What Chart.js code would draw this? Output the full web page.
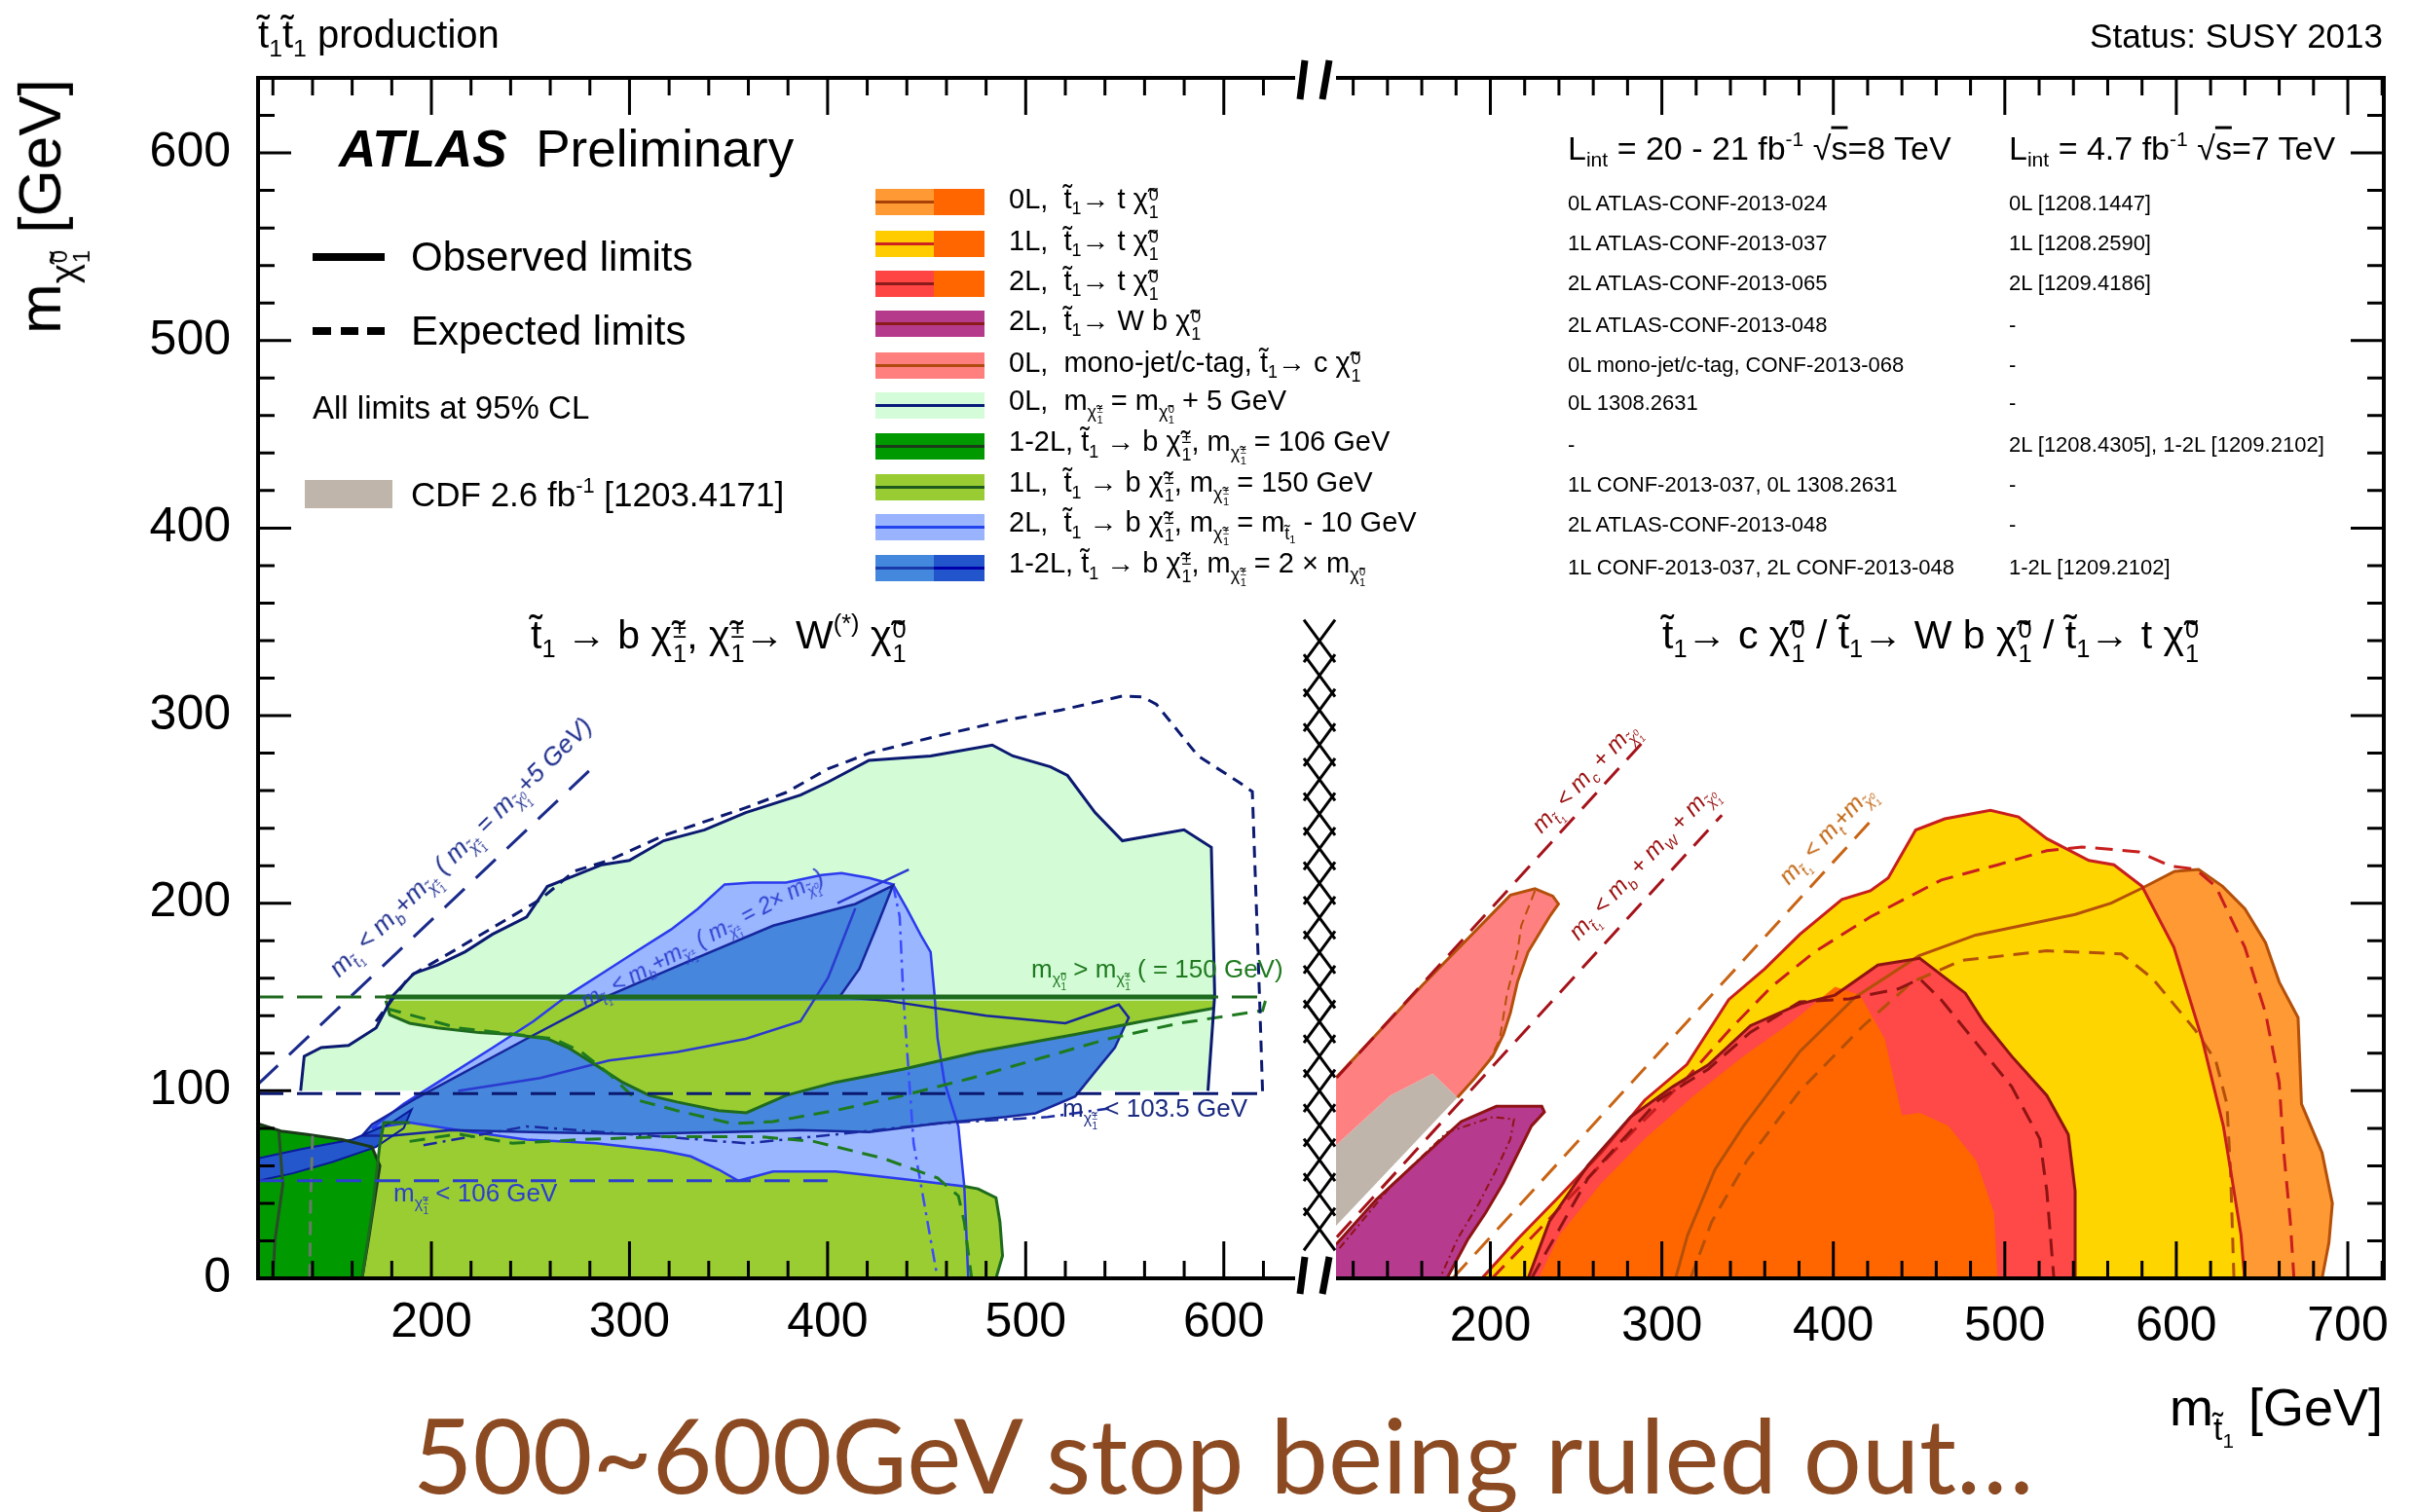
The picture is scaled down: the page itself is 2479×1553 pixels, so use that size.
<!DOCTYPE html>
<html>
<head>
<meta charset="utf-8">
<script src="https://cdn.jsdelivr.net/npm/chart.js"></script>
<style>
body{margin:0;background:#fff;width:2479px;height:1553px;overflow:hidden;position:relative;font-family:"Liberation Sans",Arial,sans-serif;color:#000;}
canvas{position:absolute;left:0;top:0;}
.t{position:absolute;white-space:nowrap;line-height:1.2;transform:translateY(-50%);}
.r{position:absolute;white-space:nowrap;line-height:1.2;transform-origin:0 50%;font-style:italic;}
.ms{font-size:0.62em;vertical-align:-0.45em;}
.ss{display:inline-block;font-size:0.62em;line-height:1;vertical-align:-0.55em;margin-left:0.04em;}
.ss>span{display:block;}
sub{font-size:0.62em;vertical-align:-0.35em;line-height:0;}
sup{font-size:0.62em;vertical-align:0.65em;line-height:0;}
.ov{text-decoration:overline;}
.box{position:absolute;}
</style>
</head>
<body>
<canvas id="left" width="2479" height="1553"></canvas>
<canvas id="right" width="2479" height="1553"></canvas>
<div id="txt"></div>
<script>
// axis ranges and tick labels
const xRangeL = [112.5, 636];
const xRangeR = [110, 721];
const yRange = [0, 640];
const xTicksL = [200, 300, 400, 500, 600];
const xTicksR = [200, 300, 400, 500, 600, 700];
const yTicks = [0, 100, 200, 300, 400, 500, 600];

// ---------- left panel: t1 -> b chi+-, chi+- -> W(*) chi0 ----------
// 0L, m(chi+-) = m(chi0) + 5 GeV
const m5Obs = [[134,100],[135.8,118.4],[144.4,123],[158.2,124.2],[172.1,133.5],[180.7,150.9],[191.1,162.5],[203.2,167.1],[217,174.1],[230.8,183.4],[248.1,192.7],[258.5,208.9],[272.3,214.7],[286.1,220.5],[299.9,222.8],[317.2,233.3],[337.9,239.1],[358.7,248.3],[386.3,257.6],[400.2,264.6],[420.9,276.2],[452,278.5],[483.1,284.3],[493.5,278.5],[512.5,272.7],[521.1,268.1],[535,248.3],[548.8,233.3],[579.9,239.1],[593.7,229.8],[595.4,150.9],[592,100]];
const m5Exp = [[172,137],[189,161],[213.5,176],[231,187],[255,202],[272,217],[290,223],[317,236],[359,251],[379,259],[400,271.5],[421,280],[455,289],[490,297.5],[518,303],[549,310.5],[559,310],[566,306],[587,278.5],[607.5,264.6],[614.4,259.5],[616,211],[618,151],[619.6,98.5]];
const kin5 = [[112.5,103.5],[282,273]];
const lim1035 = [[112.5,98.5],[620,98.5]];
const lim150 = [[112.5,150],[621,150]];
const lim106 = [[112.5,52],[400,52]];
// 2L, m(chi+-) = m(t1) - 10 GeV
const lb2L = [[170,80],[186,93],[207,107],[231,123],[251.5,137],[269,151],[286,162.5],[303,174],[321,186],[334.5,197],[348,210],[362,211],[379,211],[397,215],[407,216],[421,213.5],[433,210],[440,197],[447,183],[452,174],[454,151],[455.5,128],[459,104.5],[466,81],[469,49],[438,53],[404,57],[372.5,57],[355,52],[345,58],[331,65],[317,68],[283,72],[248,74],[213.5,79],[189,83]];
const lb2LExt = [[469,49],[470,25],[471,0]];
const lb2LExp = [[433,210],[436.4,192.7],[438.2,150.9],[443.4,72],[455.5,0]];
// 1-2L, m(chi+-) = 2 x m(chi0): 8 TeV and 7 TeV
const mb12 = [[165,76],[170,82],[193,96.4],[248,127.7],[290,151],[331,169.5],[372.5,188],[414,199.6],[433,209.4],[425,188],[416,165],[406,150],[430,148],[480,140],[520,136],[547,146],[552,139],[545,123],[538,114],[525,97],[505,88],[490,86],[455,82.5],[421,78],[386,79],[350,78],[300,77],[250,78],[210,79],[180,76]];
const mbIn = [[213.5,99.9],[255,106.8],[289.6,116.1],[324.1,120.7],[358.7,127.7],[386.3,137],[400.2,160.2],[414,197.3]];
const mbExp = [[196,71],[248,81],[317,75.5],[359,72],[404,76.7],[455,82.5],[511,86],[542,90.6]];
const kin2x = [[405,200],[441,218]];
const db12 = [[112.5,52],[112.5,64],[135,69],[160,74],[180,83],[190,90],[186,80],[172,70],[150,62],[130,56]];
// 1-2L, m(chi+-) = 106 GeV
const g106 = [[112.5,82.5],[124,78.5],[137.5,76.7],[155,74],[170,70],[174,60],[172,46.5],[168.6,23],[165,0],[112.5,0]];
const g106In1 = [[123,78],[125,50],[121,20],[120,0]];
const g106In2 = [[140,76],[139,40],[138.6,0]];
// 1L, m(chi+-) = 150 GeV
const c150A = [[177,148],[179,140.5],[189,136],[203,133.5],[224,131],[241,130],[258.5,127.7],[269,123],[282.6,114],[296.5,104.5],[310,97.5],[324,94],[345,89.4],[359,88.3],[379,97.5],[404,104.5],[438,111.5],[476,120.7],[525,130],[559,137],[595,144],[595,148]];
const c150Top = [[177,150],[595,150]];
const c150B = [[165,0],[170,35],[173.8,70],[176,83],[189,83],[213.5,79],[248,74],[283,72],[317,68],[331,65],[345,58],[355,52],[372.5,57],[404,57],[438,53],[469,49],[476,47.7],[485,43],[487,30],[488.3,12],[485,0]];
const c150ExpA = [[177,144],[213.5,133.5],[262,127.7],[275.7,120.7],[289.6,109.1],[303.4,95.2],[324,89.4],[351.8,82.5],[372.5,83.6],[403.6,89.4],[438.2,97.5],[472.7,106.8],[507.3,117.3],[541.8,127.7],[576.4,135.8],[619.6,142.8],[621.3,149]];
const c150ExpB = [[189,73],[213.5,77],[241,72],[276,74],[317,75.5],[366,75.5],[393,73],[428,64],[455.5,53.5],[466,44],[469,30],[472.7,0]];

// ---------- right panel: t1 -> c chi0 / W b chi0 / t chi0 ----------
const lo0L = [[308,0],[315,23],[331,58],[347.5,81],[380.5,121],[413,150],[450,172],[483,183],[541,194],[562,200],[580,208],[599,217],[613,218],[627,209],[640,197],[652,179],[660,158],[671,139],[673,93],[685,67],[691,40],[689,19],[685,0]];
const e0L = [[316.7,0],[329,30],[349.6,62.7],[380.5,100],[417.5,134.7],[446,158],[475,169.5],[524.5,174.6],[568,173],[586,160],[611,132.4],[623,116],[629.5,93],[631.6,58],[633.6,0]];
const y1L = [[195,0],[216,21],[240.5,44],[265,67.4],[290,95],[314.6,114],[339,148.6],[360,165],[380.5,183.4],[405,202],[421.6,206.6],[432,213.5],[448,239],[465,245],[491.6,249.5],[508,246],[524.5,234.4],[549,222.8],[563.6,220.5],[580,209],[598.6,176.4],[615,127.7],[627.4,81.3],[631.6,58],[637.7,23.3],[639.8,0]];
const e1L = [[201,0],[228,25.6],[257,53.5],[286,81],[314.6,106.8],[339,132],[364,155.5],[389,174],[421.6,192.7],[463,212.4],[496,220.5],[524.5,228],[545,230],[578,227.4],[596.6,219.8],[611,218.2],[623,209],[640,176.4],[652,141.6],[660,104.5],[662.4,70],[666.5,30],[668.6,0]];
const r2L = [[222,0],[234.4,30.3],[257,60.4],[281.7,86],[306.4,102.2],[327,113.8],[351.7,134.7],[380.5,146.3],[401,151],[426,167],[450.4,170.6],[477,152],[487.5,137],[504,118.4],[524.5,97.5],[537,76.7],[541,46.5],[541,0]];
const e2L = [[224,0],[257,53.5],[298,95],[327,111.5],[351.7,131.2],[380.5,147.4],[409.3,149],[438.1,154.4],[450.4,159.7],[462.8,148.6],[483.4,125.4],[504,102.2],[520.4,74.3],[524.5,46.5],[528.6,0]];
const do7 = [[228,0],[240.5,23.3],[265,51],[290,74.3],[318.7,97.5],[347.5,118.4],[376.4,137],[401,155.5],[415.5,151],[430,127.7],[440,87],[450.4,88.3],[467,81.3],[483.4,62.7],[493.7,35],[495.7,0]];
const cdf = [[110,71],[141.7,97.5],[166.4,109.1],[180.8,96.4],[110,28]];
const mj = [[110,107],[160,156],[211.7,204.3],[226,207.7],[236.4,203.8],[239.7,199.6],[234.4,192.7],[228.2,183.4],[222,174],[215.8,158],[211.7,141.6],[207.6,130],[201.4,118.4],[191,106.8],[180.8,96.4],[166.4,109.1],[141.7,97.5],[110,71]];
const mjIn = [[226,206.6],[218,188],[215.8,174],[209.6,151],[205.5,127.7],[199.4,116]];
const wb = [[110,18],[133.5,42],[158,62.7],[183,83.6],[203.5,91.7],[230,91.7],[231.5,88.7],[224,81.3],[215.8,66.2],[207.6,51],[197.3,35],[187,21],[178.8,7],[174.7,0],[110,0]];
const wbExp = [[112,16],[141.7,48.8],[174.7,77.8],[201.4,86],[213.8,84.8],[211.7,74.3],[203.5,58],[193,39.5],[180.8,21],[170.6,0]];
const kinC = [[110.5,107],[290,287]];
const kinW = [[110.5,22],[335,247]];
const kinT = [[178,0],[422,244]];

// ---------- dataset helpers ----------
const toXY = pts => pts.map(p => ({x: p[0], y: p[1]}));
function makeLayers() {
  const sets = [];
  return {
    sets,
    fill(pts, color) {
      sets.push({data: toXY(pts), backgroundColor: color, borderColor: 'transparent', borderWidth: 0, fill: 'shape', pointRadius: 0});
    },
    line(pts, color, width, dash, close) {
      const p = close ? pts.concat([pts[0]]) : pts;
      sets.push({data: toXY(p), borderColor: color, borderWidth: width, borderDash: dash || [], fill: false, pointRadius: 0});
    },
    done() {
      // first pushed = bottom layer
      sets.forEach((s, i) => { s.order = 1000 - i; });
      return sets;
    }
  };
}

const L = makeLayers();
L.fill(m5Obs, '#d3fbd6');
L.fill(lb2L, '#9ab6ff');
L.fill(mb12, '#4686dc');
L.fill(g106, '#009a00');
L.fill(db12, '#2457cc');
L.fill(c150A, '#9acd32');
L.fill(c150B, '#9acd32');
L.line(lb2L, '#2b3bee', 2.5, null, true);
L.line(lb2LExt, '#2b3bee', 2.5);
L.line(lb2LExp, '#3b4bff', 2.5, [14, 6, 3, 6]);
L.line(mb12, '#16269c', 2.5, null, true);
L.line(mbIn, '#2a3ad0', 2.5);
L.line(mbExp, '#1a2aa0', 2.5, [14, 6, 3, 6]);
L.line(kin2x, '#2a3ad0', 2.5);
L.line(db12, '#0a1a9a', 2, null, true);
L.line(g106.slice(0, 9), '#1a3a1a', 3);
L.line(g106In1, '#2a4a2a', 3);
L.line(g106In2, '#6a7a6a', 3, [14, 8]);
L.line(c150A.slice(0, 21), '#1e6a1e', 3);
L.line(c150Top, '#1e6a1e', 5);
L.line(c150B.slice(0, 5), '#1e6a1e', 3);
L.line(c150B.slice(15), '#1e6a1e', 3);
L.line(c150ExpA, '#1e7a1e', 3, [16, 10]);
L.line(c150ExpB, '#1e7a1e', 3, [16, 10]);
L.line(m5Obs, '#0b1a70', 3);
L.line(m5Exp, '#0b1a70', 3, [12, 8]);
L.line(kin5, '#1b2b8b', 3, [28, 16]);
L.line(lim1035, '#0b1a70', 3, [26, 14]);
L.line(lim150, '#1e6a1e', 3, [26, 14]);
L.line(lim106, '#2b3fcf', 3, [26, 14]);
const leftSets = L.done();

const R = makeLayers();
R.fill(lo0L, '#ff9933');
R.fill(y1L, '#ffd500');
R.fill(r2L, '#ff4848');
R.fill(do7, '#ff6600');
R.fill(cdf, '#bfb5ab');
R.fill(mj, '#ff8080');
R.fill(wb, '#b63a8e');
R.line(lo0L, '#b4500a', 3);
R.line(e0L, '#b4500a', 3, [16, 10]);
R.line(y1L, '#c81e1e', 3);
R.line(e1L, '#c81e1e', 3, [18, 10]);
R.line(r2L, '#8e1414', 3);
R.line(e2L, '#8e1414', 3, [18, 10]);
R.line(mj.slice(0, 15), '#b4500a', 3);
R.line(mjIn, '#b4500a', 2, [10, 6]);
R.line(wb.slice(0, 14), '#8e1414', 3);
R.line(wbExp, '#8e1414', 2, [8, 4, 2, 4]);
R.line(kinC, '#a5121a', 3, [22, 12]);
R.line(kinW, '#a5121a', 3, [22, 12]);
R.line(kinT, '#c86414', 3, [22, 12]);
const rightSets = R.done();

// ROOT style frame, inward ticks, break marks and hatch
const frameTicks = {
  id: 'frameTicks',
  afterDatasetsDraw(chart, args, opts) {
    const {ctx, chartArea: a} = chart;
    const x = chart.scales.x, y = chart.scales.y;
    ctx.save();
    ctx.strokeStyle = '#000';
    ctx.lineWidth = 3;
    ctx.beginPath();
    for (let v = Math.ceil(x.min / 20) * 20; v <= x.max; v += 20) {
      const px = x.getPixelForValue(v), len = v % 100 === 0 ? 38 : 18;
      ctx.moveTo(px, a.bottom); ctx.lineTo(px, a.bottom - len);
      ctx.moveTo(px, a.top); ctx.lineTo(px, a.top + len);
    }
    for (let v = 0; v <= y.max; v += 20) {
      const py = y.getPixelForValue(v), len = v % 100 === 0 ? 34 : 17;
      if (opts.side === 'left') { ctx.moveTo(a.left, py); ctx.lineTo(a.left + len, py); }
      else { ctx.moveTo(a.right, py); ctx.lineTo(a.right - len, py); }
    }
    ctx.stroke();
    ctx.lineWidth = 4;
    ctx.beginPath();
    if (opts.side === 'left') {
      ctx.moveTo(a.right, a.top); ctx.lineTo(a.left, a.top); ctx.lineTo(a.left, a.bottom); ctx.lineTo(a.right, a.bottom);
    } else {
      ctx.moveTo(a.left, a.top); ctx.lineTo(a.right, a.top); ctx.lineTo(a.right, a.bottom); ctx.lineTo(a.left, a.bottom);
    }
    ctx.stroke();
    if (opts.side === 'right') {
      // column of crosses between the two panels
      const cx = a.left - 17, top = y.getPixelForValue(349), bot = y.getPixelForValue(17);
      const n = 18, h = (bot - top) / n;
      ctx.lineWidth = 3;
      ctx.beginPath();
      for (let i = 0; i < n; i++) {
        const y0 = top + i * h;
        ctx.moveTo(cx - 16, y0 - 4); ctx.lineTo(cx + 16, y0 + h + 4);
        ctx.moveTo(cx + 16, y0 - 4); ctx.lineTo(cx - 16, y0 + h + 4);
      }
      ctx.stroke();
      // axis break marks
      ctx.lineWidth = 7;
      ctx.beginPath();
      [[-32, -37], [-7, -14]].forEach(([d1, d2]) => {
        ctx.moveTo(a.left + d1, a.top - 18); ctx.lineTo(a.left + d2, a.top + 22);
        ctx.moveTo(a.left + d1, a.bottom - 22); ctx.lineTo(a.left + d2, a.bottom + 16);
      });
      ctx.stroke();
    }
    ctx.restore();
  }
};

Chart.defaults.font.family = '"Liberation Sans", Arial, sans-serif';
Chart.defaults.color = '#000';

function axis(range, ticks, extra) {
  return Object.assign({
    type: 'linear', min: range[0], max: range[1],
    afterBuildTicks: s => { s.ticks = ticks.map(v => ({value: v})); },
    grid: {display: false, drawTicks: false},
    border: {display: false},
    ticks: {font: {size: 50}, color: '#000', autoSkip: false, maxRotation: 0}
  }, extra);
}

new Chart(document.getElementById('left'), {
  type: 'line',
  data: {datasets: leftSets},
  options: {
    responsive: false, animation: false,
    layout: {padding: {left: 0, top: 80, right: 1149, bottom: 0}},
    plugins: {legend: {display: false}, tooltip: {enabled: false}, frameTicks: {side: 'left'}},
    elements: {line: {tension: 0}, point: {radius: 0}},
    scales: {
      x: axis(xRangeL, xTicksL, {afterFit: s => { s.height = 240; }, ticks: {font: {size: 50}, color: '#000', autoSkip: false, maxRotation: 0, padding: 16}}),
      y: axis(yRange, yTicks, {afterFit: s => { s.width = 265; }, ticks: {font: {size: 50}, color: '#000', autoSkip: false, padding: 28}})
    }
  },
  plugins: [frameTicks]
});

new Chart(document.getElementById('right'), {
  type: 'line',
  data: {datasets: rightSets},
  options: {
    responsive: false, animation: false,
    layout: {padding: {left: 1372, top: 80, right: 31, bottom: 0}},
    plugins: {legend: {display: false}, tooltip: {enabled: false}, frameTicks: {side: 'right'}},
    elements: {line: {tension: 0}, point: {radius: 0}},
    scales: {
      x: axis(xRangeR, xTicksR, {afterFit: s => { s.height = 240; }, ticks: {font: {size: 50}, color: '#000', autoSkip: false, maxRotation: 0, padding: 20}}),
      y: axis(yRange, yTicks, {display: false})
    }
  },
  plugins: [frameTicks]
});

// ---------- text ----------
const T = 't\u0303';
const X = '\u03C7\u0303';
const ss = (a, b) => `<span class="ss"><span>${a}</span><span>${b}</span></span>`;
const chi = (a, b) => X + ss(a, b);
const t1 = T + '<sub>1</sub>';
const m = s => `m<span class="ms">${s}</span>`;

let html = '';
const txt = (h, x, cy, size, extra) => { html += `<div class="t" style="left:${x}px;top:${cy}px;font-size:${size}px;${extra || ''}">${h}</div>`; };
const rot = (h, x, cy, deg, size, color) => { html += `<div class="r" style="left:${x}px;top:${cy - size * 0.6}px;font-size:${size}px;color:${color};transform:rotate(${deg}deg)">${h}</div>`; };
const box = (x, y, w, h, bg) => { html += `<div class="box" style="left:${x}px;top:${y}px;width:${w}px;height:${h}px;background:${bg}"></div>`; };

txt(`${t1}${t1} production`, 265, 35, 40);
txt('Status: SUSY 2013', 0, 37, 35, 'left:auto;right:32px;');
txt('<b><i>ATLAS</i></b>&nbsp; Preliminary', 348, 153, 53);
box(321, 260, 74, 8, '#000');
txt('Observed limits', 422, 264, 42);
box(321, 336, 19, 8, '#000'); box(350, 336, 18, 8, '#000'); box(377, 336, 18, 8, '#000');
txt('Expected limits', 422, 340, 42);
txt('All limits at 95% CL', 321, 419, 33);
box(313, 493, 90, 29, '#bfb5ab');
txt('CDF 2.6 fb<sup>-1</sup> [1203.4171]', 422, 508, 35);

// middle legend
const legRows = [
  ['#ff9933', '#ff6600', '#a84208', `0L,&nbsp; ${t1}→ t ${chi('0', '1')}`],
  ['#ffcc00', '#ff6600', '#cc2222', `1L,&nbsp; ${t1}→ t ${chi('0', '1')}`],
  ['#ff4444', '#ff6600', '#8b1a1a', `2L,&nbsp; ${t1}→ t ${chi('0', '1')}`],
  ['#b63a8c', null, '#8b1a1a', `2L,&nbsp; ${t1}→ W b ${chi('0', '1')}`],
  ['#ff7f7f', null, '#b04a10', `0L,&nbsp; mono-jet/c-tag, ${t1}→ c ${chi('0', '1')}`],
  ['#d4fcd8', null, '#0a1a7a', `0L,&nbsp; ${m(chi('±', '1'))} = ${m(chi('0', '1'))} + 5 GeV`],
  ['#009900', null, '#1a3a1a', `1-2L, ${t1} → b ${chi('±', '1')}, ${m(chi('±', '1'))} = 106 GeV`],
  ['#99cc33', null, '#1e5a1e', `1L,&nbsp; ${t1} → b ${chi('±', '1')}, ${m(chi('±', '1'))} = 150 GeV`],
  ['#99b3ff', null, '#2244ee', `2L,&nbsp; ${t1} → b ${chi('±', '1')}, ${m(chi('±', '1'))} = ${m(t1)} - 10 GeV`],
  ['#4488dd', '#2255cc', '#1a3aaa', `1-2L, ${t1} → b ${chi('±', '1')}, ${m(chi('±', '1'))} = 2 × ${m(chi('0', '1'))}`]
];
const legY = [207, 250, 291, 332, 375, 416, 458, 500, 541, 583];
legRows.forEach((r, i) => {
  const cy = legY[i];
  box(899, cy - 13, 112, 27, r[0]);
  if (r[1]) box(959, cy - 13, 52, 27, r[1]);
  box(899, cy - 1, r[1] && i < 9 ? 60 : 112, 3, r[2]);
  if (i === 9) box(959, cy - 1, 52, 3, '#0000aa');
  txt(r[3], 1036, cy, 29);
});

// reference table
txt(`L<sub>int</sub> = 20 - 21 fb<sup>-1</sup> √<span class="ov">s</span>=8 TeV`, 1610, 152, 34);
txt(`L<sub>int</sub> = 4.7 fb<sup>-1</sup> √<span class="ov">s</span>=7 TeV`, 2063, 152, 34);
const refs8 = ['0L ATLAS-CONF-2013-024', '1L ATLAS-CONF-2013-037', '2L ATLAS-CONF-2013-065', '2L ATLAS-CONF-2013-048', '0L mono-jet/c-tag, CONF-2013-068', '0L 1308.2631', '-', '1L CONF-2013-037, 0L 1308.2631', '2L ATLAS-CONF-2013-048', '1L CONF-2013-037, 2L CONF-2013-048'];
const refs7 = ['0L [1208.1447]', '1L [1208.2590]', '2L [1209.4186]', '-', '-', '-', '2L [1208.4305], 1-2L [1209.2102]', '-', '-', '1-2L [1209.2102]'];
const refY = [209, 250, 291, 334, 375, 414, 457, 498, 539, 583];
refY.forEach((cy, i) => { txt(refs8[i], 1610, cy, 22); txt(refs7[i], 2063, cy, 22); });

// panel titles
txt(`${t1} → b ${chi('±', '1')}, ${chi('±', '1')}→ W<sup>(*)</sup> ${chi('0', '1')}`, 545, 656, 41);
txt(`${t1}→ c ${chi('0', '1')} / ${t1}→ W b ${chi('0', '1')} / ${t1}→ t ${chi('0', '1')}`, 1707, 656, 41);

// annotations
rot(`${m(t1)} &lt; ${m('b')}+${m(chi('±', '1'))} ( ${m(chi('±', '1'))} = ${m(chi('0', '1'))}+5 GeV)`, 345, 998, -44.5, 26, '#1b2b8b');
rot(`${m(t1)} &lt; ${m('b')}+${m(chi('±', '1'))} ( ${m(chi('±', '1'))} = 2× ${m(chi('0', '1'))})`, 600, 1030, -28, 23, '#2b3fcf');
txt(`${m(chi('0', '1'))} &gt; ${m(chi('±', '1'))} ( = 150 GeV)`, 1059, 999, 26, 'color:#1f7a1f;');
txt(`${m(chi('±', '1'))} &lt; 103.5 GeV`, 1091, 1142, 26, 'color:#1a2a80;');
txt(`${m(chi('±', '1'))} &lt; 106 GeV`, 404, 1229, 26, 'color:#2b3fcf;');
rot(`${m(t1)} &lt; ${m('c')} + ${m(chi('0', '1'))}`, 1580, 850, -47, 24, '#9b1010');
rot(`${m(t1)} &lt; ${m('b')} + ${m('W')} + ${m(chi('0', '1'))}`, 1618, 960, -47, 24, '#9b1010');
rot(`${m(t1)} &lt; ${m('t')}+${m(chi('0', '1'))}`, 1834, 903, -47, 24, '#c0600a');

// axis titles
html += `<div style="position:absolute;left:50px;top:212px;transform:translate(-50%,-50%) rotate(-90deg);font-size:62px;white-space:nowrap;line-height:1.2">${m(chi('0', '1'))} [GeV]</div>`;
txt(`${m(t1)} [GeV]`, 0, 1451, 54, 'left:auto;right:32px;');

// slide caption
txt('500~600GeV stop being ruled out…', 424, 1494, 106, 'font-family:Lato,sans-serif;color:#8b4a22;');

document.getElementById('txt').innerHTML = html;
</script>
</body>
</html>
